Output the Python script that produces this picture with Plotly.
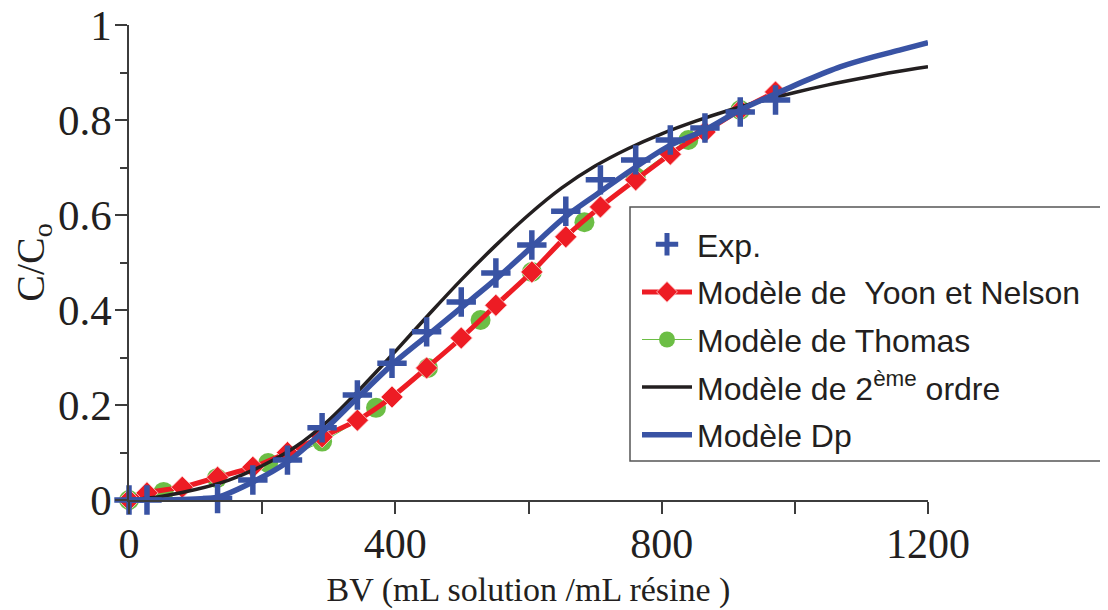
import plotly.graph_objects as go

# ---- data ----
exp_x = [0, 27, 80, 133, 186, 238, 290, 343, 395, 447, 499, 551, 605, 656, 708, 761, 813, 865, 918, 971]
exp_y = [0, 0, -0.003, 0.003, 0.042, 0.084, 0.152, 0.221, 0.288, 0.354, 0.417, 0.478, 0.537, 0.608, 0.674, 0.716, 0.758, 0.783, 0.817, 0.842]

yn_x = [0, 27, 80, 133, 186, 238, 290, 343, 395, 447, 499, 551, 605, 656, 708, 761, 813, 865, 918, 971]
yn_y = [0, 0.015, 0.027, 0.048, 0.069, 0.100, 0.133, 0.168, 0.217, 0.278, 0.341, 0.410, 0.480, 0.554, 0.617, 0.674, 0.728, 0.775, 0.821, 0.859]

th_x = [0, 52, 132, 209, 290, 371, 449, 528, 605, 684, 761, 840, 918]
th_y = [0, 0.017, 0.046, 0.078, 0.123, 0.194, 0.278, 0.379, 0.480, 0.585, 0.680, 0.758, 0.821]

so_x = [0, 50, 100, 150, 200, 250, 300, 350, 400, 450, 500, 550, 600, 650, 700, 750, 800, 850, 900, 950, 1000, 1050, 1100, 1150, 1200]
so_y = [0, 0.008, 0.022, 0.042, 0.072, 0.112, 0.168, 0.238, 0.313, 0.390, 0.465, 0.535, 0.600, 0.657, 0.703, 0.740, 0.771, 0.797, 0.820, 0.840, 0.858, 0.874, 0.888, 0.901, 0.912]

dp_x = [0, 50, 100, 133, 186, 238, 283, 343, 395, 447, 499, 551, 605, 655, 707, 760, 813, 865, 918, 968, 1018, 1068, 1118, 1160, 1200]
dp_y = [0, 0, 0.002, 0.006, 0.038, 0.080, 0.133, 0.215, 0.285, 0.345, 0.405, 0.465, 0.533, 0.596, 0.648, 0.700, 0.747, 0.779, 0.821, 0.853, 0.884, 0.912, 0.933, 0.948, 0.963]

x_ticks = [0, 400, 800, 1200]
y_ticks = [0, 0.2, 0.4, 0.6, 0.8, 1]

BLUE = "#3953a4"
RED = "#ed1c24"
GREEN = "#6cbe45"
BLACK = "#231f20"
AX = "#3c3c3c"

fig = go.Figure()

# traces added in drawing order (bottom to top); legend order set by legendrank
fig.add_trace(go.Scatter(
    x=th_x, y=th_y, mode="lines+markers", name="Modèle de Thomas", legendgroup="c", legendrank=3,
    line=dict(color=GREEN, width=1, shape="spline"),
    marker=dict(symbol="circle", size=20, color=GREEN),
    cliponaxis=False))
fig.add_trace(go.Scatter(
    x=yn_x, y=yn_y, mode="lines+markers", name="Modèle de \u00a0Yoon et Nelson", legendgroup="b", legendrank=2,
    line=dict(color=RED, width=5, shape="spline", smoothing=0.8),
    marker=dict(symbol="diamond", size=17, color=RED, line=dict(color="rgba(255,210,210,0.8)", width=1)),
    cliponaxis=False))
fig.add_trace(go.Scatter(
    x=so_x, y=so_y, mode="lines", name="Modèle de 2<sup>ème</sup> ordre", legendgroup="d", legendrank=4,
    line=dict(color=BLACK, width=3.5, shape="spline", smoothing=1),
    cliponaxis=False))
fig.add_trace(go.Scatter(
    x=dp_x, y=dp_y, mode="lines", name="Modèle Dp", legendgroup="e", legendrank=5,
    line=dict(color=BLUE, width=5.5, shape="spline", smoothing=0.8),
    cliponaxis=False))
fig.add_trace(go.Scatter(
    x=exp_x, y=exp_y, mode="markers", name="Exp.", legendgroup="a", legendrank=1,
    marker=dict(symbol="cross-thin", size=21, color=BLUE, line=dict(color=BLUE, width=5.5)),
    cliponaxis=False))

serif = "Liberation Serif, Times New Roman, serif"

# plot area: page offset of 8 px is compensated in the margins
L, R, T, B = 121, 188, 17, 118
PW = 1108 - L - R
PH = 610 - T - B

def px_to_paper_x(px):
    return (px - 8 - L) / PW

def px_to_paper_y(py):
    return (610 - B - (py - 8)) / PH

fig.update_layout(
    width=1108, height=610, autosize=False,
    paper_bgcolor="white", plot_bgcolor="white",
    margin=dict(l=L, r=R, t=T, b=B, autoexpand=False),
    showlegend=True,
    legend=dict(
        x=px_to_paper_x(637), y=px_to_paper_y(217), xanchor="left", yanchor="top",
        bgcolor="rgba(0,0,0,0)", borderwidth=0,
        font=dict(family="Liberation Sans, Arial, sans-serif", size=32, color=BLACK),
        traceorder="grouped", tracegroupgap=3, itemwidth=50,
    ),
    shapes=[dict(type="rect", xref="paper", yref="paper",
                 x0=px_to_paper_x(630), x1=px_to_paper_x(1112),
                 y0=px_to_paper_y(461), y1=px_to_paper_y(207),
                 line=dict(color="#555555", width=1.5), fillcolor="white", layer="above")],
    xaxis=dict(
        range=[0, 1200], tickvals=x_ticks, ticks="outside", ticklen=12, tickwidth=1.5, tickcolor=AX,
        showline=True, linecolor=AX, linewidth=1.5, showgrid=False, zeroline=False, layer="above traces",
        minor=dict(dtick=200, tick0=0, ticks="outside", ticklen=12, tickwidth=1.5, tickcolor=AX, showgrid=False),
        tickfont=dict(family=serif, size=42, color=BLACK), ticklabelstandoff=-6, ticklabeloverflow="allow",
        title=dict(text="BV (mL solution /mL résine )", font=dict(family=serif, size=34, color=BLACK), standoff=11),
    ),
    yaxis=dict(
        range=[0, 1], tickvals=y_ticks, ticktext=["0", "0.2", "0.4", "0.6", "0.8", "1"],
        ticks="outside", ticklen=12, tickwidth=1.5, tickcolor=AX,
        showline=True, linecolor=AX, linewidth=1.5, showgrid=False, zeroline=False, layer="above traces",
        minor=dict(dtick=0.1, tick0=0, ticks="outside", ticklen=7, tickwidth=1.5, tickcolor=AX, showgrid=False),
        tickfont=dict(family=serif, size=43, color=BLACK), ticklabelstandoff=-5, ticklabeloverflow="allow",
        title=dict(text="C/C<sub>o</sub>", font=dict(family=serif, size=40, color=BLACK), standoff=8),
    ),
)

fig.write_html("out.html")
